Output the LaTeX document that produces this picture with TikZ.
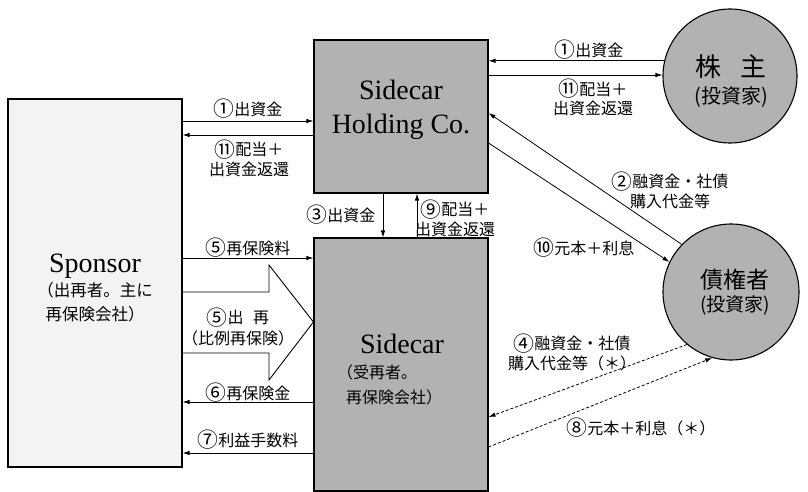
\documentclass[tikz,border=0pt]{standalone}
\usepackage{fontspec}
\setmainfont{Liberation Serif}
\newfontfamily\jp{Noto Sans CJK JP}
\usetikzlibrary{arrows.meta}
\definecolor{boxgray}{RGB}{178,178,178}
\definecolor{spongray}{RGB}{243,243,243}
\newcommand\cnum[1]{\raisebox{-0.1em}{\scalebox{1.3}{#1}}}
\begin{document}
\begin{tikzpicture}[x=1pt,y=-1pt,
  box/.style={draw, line width=1.1pt, inner sep=0, fill=boxgray},
  ball/.style={draw, circle, line width=1.1pt, inner sep=0, fill=boxgray},
  flow/.style={line width=0.8pt, -{Latex[length=7pt,width=4.5pt]}},
  dflow/.style={flow, dash pattern=on 3pt off 2pt},
  lab/.style={font=\jp\fontsize{16}{19.5}\selectfont, inner sep=0, align=center},
  big/.style={font=\fontsize{28}{33}\selectfont, inner sep=0},
]
\useasboundingbox (0,0) rectangle (808,492);

% main boxes
\node[box, fill=spongray, minimum width=174pt, minimum height=368pt] (spon) at (95,283) {};
\node[box, minimum width=174pt, minimum height=153pt] (hold) at (401,116.5) {};
\node[box, minimum width=174pt, minimum height=253pt] (side) at (401,364.5) {};
\node[ball, minimum size=134pt] (share) at (730,76) {};
\node[ball, minimum size=136pt] (cred) at (731,292) {};

% box texts
\node[big, anchor=base] (holdA) at (401,100) {Sidecar};
\node[big, anchor=base] (holdB) at (401,133) {Holding Co.};
\node[big, anchor=base] (sponA) at (95,272) {Sponsor};
\node[lab, font=\jp\fontsize{16.5}{20}\selectfont] (sponB) at (95,290) {（出再者。主に};
\node[lab, font=\jp\fontsize{16.5}{20}\selectfont] (sponC) at (95,314) {再保険会社）};
\node[big, anchor=base] (sideA) at (402,353) {Sidecar};
\node[lab, anchor=west] (sideB) at (337,372) {（受再者。};
\node[lab, anchor=west] (sideC) at (346,397) {再保険会社）};
\node[lab, font=\jp\fontsize{26}{30}\selectfont] (shareA) at (731,67) {株\hspace{0.7em}主};
\node[lab, font=\jp\fontsize{20}{24}\selectfont] (shareB) at (731,97) {(投資家)};
\node[lab, font=\jp\fontsize{23}{27}\selectfont] (credA) at (735,280) {債権者};
\node[lab, font=\jp\fontsize{19}{23}\selectfont] (credB) at (735,305) {(投資家)};

% connectors
\draw[flow] (spon.east |- 0,121) -- (hold.west |- 0,121);
\draw[flow] (hold.west |- 0,135) -- (spon.east |- 0,135);
\draw[flow] (share.167) -- (hold.east |- share.167);
\draw[flow] (hold.east |- 0,75) -- (share.west |- 0,75);
\draw[flow] (cred.136) -- (hold.east |- 0,113);
\draw[flow] (hold.east |- 0,143) -- (cred.154);
\draw[flow] (hold.south -| 383,0) -- (side.north -| 383,0);
\draw[flow] (side.north -| 417,0) -- (hold.south -| 417,0);
\draw[flow] (spon.east |- 0,258) -- (side.west |- 0,258);
\draw[flow] (side.west |- 0,402) -- (spon.east |- 0,402);
\draw[flow] (side.west |- 0,453) -- (spon.east |- 0,453);
\draw[dflow] (cred.230) -- (side.east |- 0,417);
\draw[dflow] (side.east |- 0,447) -- (cred.254);

% block arrow (proportional reinsurance)
\draw[line width=0.9pt] (spon.east |- 0,292) -- (269,292) -- (269,265)
  -- (side.west |- 0,322) -- (269,380) -- (269,353) -- (spon.east |- 0,353);

% labels
\node[lab] (l1) at (248,109) {\cnum{①}出資金};
\node[lab] (l11) at (249,158) {\cnum{⑪}配当＋\\出資金返還};
\node[lab] (l3) at (341,215) {\cnum{③}出資金};
\node[lab] (l9) at (455,218) {\cnum{⑨}配当＋\\出資金返還};
\node[lab] (l5) at (248,248) {\cnum{⑤}再保険料};
\node[lab] (l5b) at (238,327) {\cnum{⑤}出\hspace{0.6em}再\\[2pt]（比例再保険）};
\node[lab] (l6) at (248,393) {\cnum{⑥}再保険金};
\node[lab] (l7) at (248,440) {\cnum{⑦}利益手数料};
\node[lab] (r1) at (589,50) {\cnum{①}出資金};
\node[lab] (r11) at (593,97.5) {\cnum{⑪}配当＋\\出資金返還};
\node[lab] (l2) at (670,190) {\cnum{②}融資金・社債\\購入代金等};
\node[lab] (l10) at (584,248) {\cnum{⑩}元本＋利息};
\node[lab] (l4) at (572,352.5) {\cnum{④}融資金・社債\\購入代金等（＊）};
\node[lab] (l8) at (641,428) {\cnum{⑧}元本＋利息（＊）};
\end{tikzpicture}
\end{document}
